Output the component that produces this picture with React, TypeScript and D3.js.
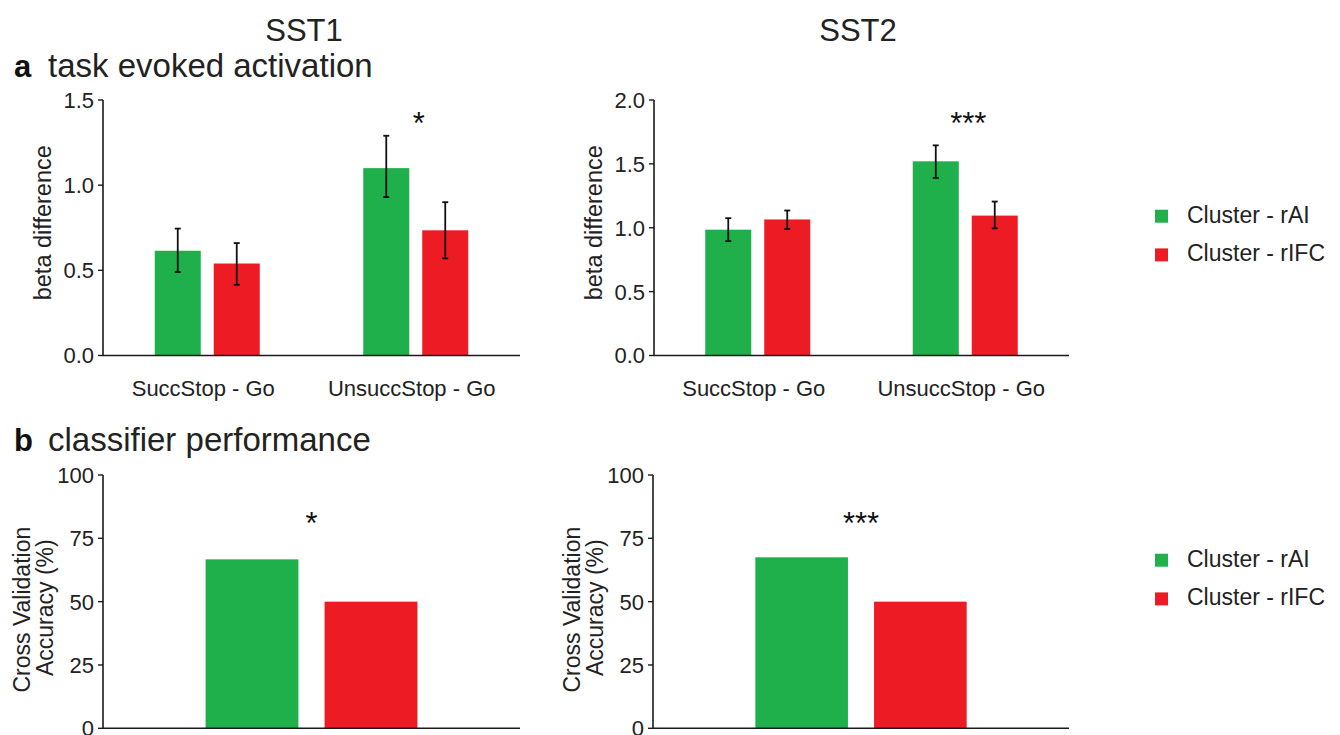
import React from "react";
import * as d3 from "d3";

// ---------- data ----------
const categories = ["SuccStop - Go", "UnsuccStop - Go"];
const seriesKeys = ["rAI", "rIFC"];
const seriesNames = ["Cluster - rAI", "Cluster - rIFC"];
const seriesColors = ["#1faf4b", "#ed1c24"];

// SST1 task evoked activation (beta difference)
const sst1RaiMean = [0.615, 1.1];
const sst1RaiLow = [0.49, 0.93];
const sst1RaiHigh = [0.745, 1.29];
const sst1RifcMean = [0.54, 0.735];
const sst1RifcLow = [0.415, 0.57];
const sst1RifcHigh = [0.66, 0.9];

// SST2 task evoked activation (beta difference)
const sst2RaiMean = [0.985, 1.52];
const sst2RaiLow = [0.895, 1.39];
const sst2RaiHigh = [1.075, 1.645];
const sst2RifcMean = [1.065, 1.095];
const sst2RifcLow = [0.99, 0.995];
const sst2RifcHigh = [1.135, 1.205];

// classifier performance (cross validation accuracy %)
const sst1Accuracy = [66.7, 50];
const sst2Accuracy = [67.5, 50];

const sst1Ticks = [0, 0.5, 1.0, 1.5];
const sst2Ticks = [0, 0.5, 1.0, 1.5, 2.0];
const accTicks = [0, 25, 50, 75, 100];

const sst1Stars = ["", "*"];
const sst2Stars = ["", "***"];
const accStars = ["*", "***"];

const FONT = "'Liberation Sans', Arial, Helvetica, sans-serif";
const AX = "#1a1a1a";

function YAxis({ x, scale, ticks, fmt }) {
  const [y0, y1] = scale.range();
  return (
    <g>
      <line x1={x} x2={x} y1={y0} y2={y1} stroke={AX} strokeWidth={1.6} />
      {ticks.map((t) => (
        <g key={t}>
          <line x1={x - 5} x2={x} y1={scale(t)} y2={scale(t)} stroke={AX} strokeWidth={1.4} />
          <text
            x={x - 9}
            y={scale(t)}
            dy="0.36em"
            textAnchor="end"
            fontSize={22}
            fill="#222"
          >
            {fmt(t)}
          </text>
        </g>
      ))}
    </g>
  );
}

function ActivationPanel({ x0, x1, y0, y1, domainMax, ticks, means, lows, highs, stars }) {
  const y = d3.scaleLinear().domain([0, domainMax]).range([y0, y1]);
  const gx = d3.scalePoint().domain(categories).range([x0, x1]).padding(0.5);
  const sub = d3.scaleBand().domain(seriesKeys).range([-52.5, 52.5]).paddingInner(0.22);
  const fmt = d3.format(".1f");
  return (
    <g>
      {categories.map((c, ci) => (
        <g key={c}>
          {seriesKeys.map((k, si) => {
            const bx = gx(c) + sub(k);
            const cx = bx + sub.bandwidth() / 2;
            return (
              <g key={k}>
                <rect
                  x={bx}
                  y={y(means[si][ci])}
                  width={sub.bandwidth()}
                  height={y(0) - y(means[si][ci])}
                  fill={seriesColors[si]}
                />
                <line x1={cx} x2={cx} y1={y(lows[si][ci])} y2={y(highs[si][ci])} stroke="#111" strokeWidth={1.8} />
                <line x1={cx - 3} x2={cx + 3} y1={y(lows[si][ci])} y2={y(lows[si][ci])} stroke="#111" strokeWidth={1.8} />
                <line x1={cx - 3} x2={cx + 3} y1={y(highs[si][ci])} y2={y(highs[si][ci])} stroke="#111" strokeWidth={1.8} />
              </g>
            );
          })}
          <text x={gx(c) - 4} y={y0 + 40} textAnchor="middle" fontSize={22} fill="#222">
            {c}
          </text>
          {stars[ci] && (
            <text x={gx(c) + 3} y={134} textAnchor="middle" fontSize={31} fill="#111">
              {stars[ci]}
            </text>
          )}
        </g>
      ))}
      <line x1={x0} x2={x1} y1={y0} y2={y0} stroke={AX} strokeWidth={1.6} />
      <YAxis x={x0} scale={y} ticks={ticks} fmt={fmt} />
      <text
        transform={`translate(${x0 - 52},${(y0 + y1) / 2 - 5}) rotate(-90)`}
        textAnchor="middle"
        fontSize={23.5}
        fill="#222"
      >
        beta difference
      </text>
    </g>
  );
}

function AccuracyPanel({ x0, x1, y0, y1, values, star }) {
  const y = d3.scaleLinear().domain([0, 100]).range([y0, y1]);
  const bx = d3.scaleBand().domain(seriesKeys).range([x0, x1]).paddingInner(0.22).paddingOuter(0.862);
  const fmt = d3.format("d");
  const mid = (x0 + x1) / 2;
  return (
    <g>
      {seriesKeys.map((k, si) => (
        <rect
          key={k}
          x={bx(k)}
          y={y(values[si])}
          width={bx.bandwidth()}
          height={y(0) - y(values[si])}
          fill={seriesColors[si]}
        />
      ))}
      <text x={mid} y={y1 + 59} textAnchor="middle" fontSize={31} fill="#111">
        {star}
      </text>
      <line x1={x0} x2={x1} y1={y0} y2={y0} stroke={AX} strokeWidth={1.6} />
      <YAxis x={x0} scale={y} ticks={accTicks} fmt={fmt} />
      <text
        transform={`translate(${x0 - 73},${(y0 + y1) / 2 + 8}) rotate(-90)`}
        textAnchor="middle"
        fontSize={23}
        fill="#222"
      >
        Cross Validation
      </text>
      <text
        transform={`translate(${x0 - 50},${(y0 + y1) / 2 + 6}) rotate(-90)`}
        textAnchor="middle"
        fontSize={23}
        fill="#222"
      >
        Accuracy (%)
      </text>
    </g>
  );
}

function Legend({ x, y }) {
  return (
    <g>
      {seriesNames.map((n, i) => (
        <g key={n} transform={`translate(${x},${y + i * 38.7})`}>
          <rect x={0} y={-13} width={13} height={13} fill={seriesColors[i]} />
          <text x={32} y={0} fontSize={23} fill="#222">
            {n}
          </text>
        </g>
      ))}
    </g>
  );
}

export default function App() {
  return (
    <svg
      width={1340}
      height={735}
      style={{ position: "absolute", left: 0, top: 0, background: "#fff" }}
      fontFamily={FONT}
    >
      <rect width={1340} height={735} fill="#fff" />
      <text x={304} y={41} textAnchor="middle" fontSize={31} fill="#222">SST1</text>
      <text x={858} y={41} textAnchor="middle" fontSize={31} fill="#222">SST2</text>

      <text x={14} y={77} fontSize={31} fontWeight="bold" fill="#111">a</text>
      <text x={48} y={77} fontSize={33} fill="#222">task evoked activation</text>
      <text x={14} y={451} fontSize={31} fontWeight="bold" fill="#111">b</text>
      <text x={48} y={451} fontSize={33} fill="#222">classifier performance</text>

      <ActivationPanel
        x0={103}
        x1={520}
        y0={355.5}
        y1={100}
        domainMax={1.5}
        ticks={sst1Ticks}
        means={[sst1RaiMean, sst1RifcMean]}
        lows={[sst1RaiLow, sst1RifcLow]}
        highs={[sst1RaiHigh, sst1RifcHigh]}
        stars={sst1Stars}
      />
      <ActivationPanel
        x0={654}
        x1={1069}
        y0={355.5}
        y1={100}
        domainMax={2.0}
        ticks={sst2Ticks}
        means={[sst2RaiMean, sst2RifcMean]}
        lows={[sst2RaiLow, sst2RifcLow]}
        highs={[sst2RaiHigh, sst2RifcHigh]}
        stars={sst2Stars}
      />
      <AccuracyPanel x0={103} x1={520} y0={728.3} y1={475} values={sst1Accuracy} star={accStars[0]} />
      <AccuracyPanel x0={653} x1={1069} y0={728.3} y1={475} values={sst2Accuracy} star={accStars[1]} />

      <Legend x={1155} y={222.7} />
      <Legend x={1155} y={566.7} />
    </svg>
  );
}
